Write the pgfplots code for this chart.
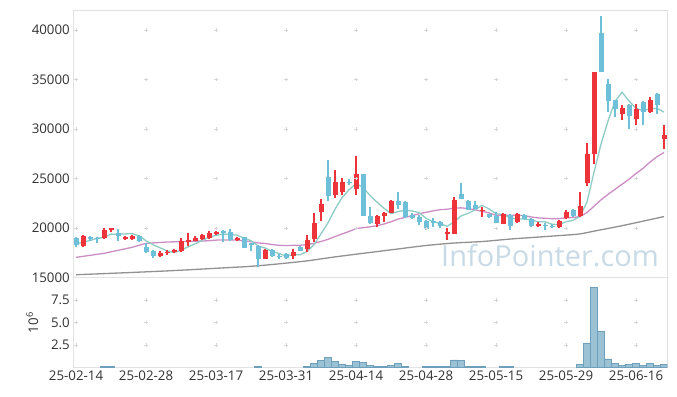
\documentclass[border=0pt]{standalone}
\usepackage{pgfplots}
\pgfplotsset{compat=1.18}
\usepackage{pgfplotstable}
\usepackage{fontspec}
\setmainfont{Open Sans}
\definecolor{upc}{RGB}{236,52,58}
\definecolor{dnc}{RGB}{110,192,216}
\definecolor{mafive}{RGB}{140,204,196}
\definecolor{matwenty}{RGB}{204,140,196}
\definecolor{malong}{RGB}{145,145,145}
\definecolor{volfill}{RGB}{154,194,212}
\definecolor{voldraw}{RGB}{110,160,188}
\definecolor{frame}{RGB}{226,226,226}
\definecolor{gridc}{RGB}{214,214,214}
\definecolor{txt}{RGB}{50,50,50}
\definecolor{wm}{RGB}{200,218,229}

\pgfplotstableread{
i o h l c
1 18170 19300 18100 19250
4 19020 20030 18950 19830
5 19790 20030 19590 19990
7 18880 19250 18830 19080
8 18880 19350 18830 19180
12 17155 17660 17100 17530
13 17460 17800 17300 17600
14 17560 17900 17460 17830
15 17660 19020 17560 18740
16 18640 19520 18240 18840
17 18740 19250 18700 19050
18 18880 19400 18830 19350
19 19020 19690 18950 19490
20 19380 19700 19330 19630
23 18810 19150 18750 19020
27 16890 17900 16850 17800
31 17155 17900 16900 17630
33 17900 19300 17550 18840
34 18920 21510 18580 20570
35 21610 22960 20700 22390
37 23330 25900 23030 24610
38 23630 25100 23300 24610
40 23970 27250 23300 25490
43 20430 21300 20100 21270
44 21200 21600 20670 21510
45 21550 22850 21500 22790
53 19420 19990 18840 19590
54 19420 23130 19370 22890
58 21710 22110 21170 21850
61 20430 21500 20380 21450
63 20600 21500 20550 21380
66 20260 20600 20100 20430
69 20100 20820 20050 20770
70 21000 21830 20950 21610
72 21200 23630 21150 22190
73 24540 28640 24300 27520
74 27520 35750 26440 35750
78 31530 32400 30890 32170
80 30990 32580 30380 32070
82 31730 33200 31650 32980
84 28960 30380 28020 29370
}\up

\pgfplotstableread{
i o h l c
0 18980 19080 18140 18310
2 19150 19220 18740 18920
3 19050 19150 18470 18980
6 19554 19930 18740 19180
9 19180 19300 18600 18670
10 18070 18470 17460 17560
11 17660 17800 16990 17155
21 19760 19830 18570 19520
22 19655 19930 18750 18810
24 19080 19150 17950 18000
25 18470 18550 17660 18310
26 18240 18300 16040 16890
28 17800 17850 17100 17200
29 17230 17400 16850 17050
30 17400 17450 16850 16950
32 18140 18200 17680 17730
36 25150 26910 22790 23200
39 24610 24990 24310 24530
41 25490 25490 21270 21270
42 21240 22140 20450 20500
46 22790 23630 21950 22290
47 22690 22750 21050 21100
48 21340 21500 20950 21000
49 21100 21340 20330 20670
50 20770 20850 19830 19930
51 20770 21000 20100 20540
52 20600 20770 20040 20190
55 23470 24540 22900 22960
56 22790 22850 21800 21850
57 22350 22790 21900 21950
59 21380 21450 21050 21100
60 21200 21650 20490 20540
62 21340 21400 19830 20260
64 21340 21400 20890 20940
65 20940 21000 20140 20190
67 20340 20530 19830 20260
68 20250 20430 20000 20150
71 21880 21950 21150 21200
75 39660 41410 35750 35800
76 34530 35100 31730 32840
77 32910 32950 31220 32070
79 32400 32500 30050 31290
81 32690 32800 30380 31730
83 33590 33650 31570 32400
}\dn

\pgfplotstableread{
i v
4 0.12
5 0.12
26 0.10
33 0.10
34 0.45
35 0.80
36 1.10
37 0.70
38 0.40
39 0.25
40 0.70
41 0.60
42 0.25
43 0.10
44 0.10
45 0.20
46 0.45
47 0.10
50 0.08
51 0.08
52 0.08
53 0.08
54 0.85
55 0.75
56 0.10
57 0.10
58 0.10
61 0.10
62 0.10
72 0.35
73 2.70
74 8.90
75 4.05
76 0.95
77 0.45
78 0.20
79 0.35
80 0.45
81 0.25
82 0.45
83 0.25
84 0.35
}\vol

\pgfplotsset{
  candle/.style={draw=none, mark=none, forget plot},
  base/.style={
    scale only axis, width=594bp,
    xmin=-0.39, xmax=84.47,
    axis line style={frame, line width=0.8bp},
    major tick length=0pt,
    xtick={0,10,...,80},
    tick label style={font=\fontsize{13.3bp}{16bp}\selectfont, text=txt},
    /pgf/number format/assume math mode=true,
    clip=true,
  },
}

\begin{document}
\begin{tikzpicture}[x=1bp,y=1bp]
\path[use as bounding box] (0,0) rectangle (677,396);
\node[anchor=base west, inner sep=0, text=wm, font=\fontsize{29bp}{34bp}\selectfont] at (441,129.5) {InfoPointer.com};

\begin{axis}[base,
  at={(73.3bp,118.3bp)}, anchor=south west,
  height=267.7bp,
  ymin=15000, ymax=42020,
  ytick={15000,20000,25000,30000,35000,40000},
  scaled y ticks=false,
  yticklabel style={/pgf/number format/1000 sep={}},
  xticklabels={},
]
\addplot[only marks, mark=+, mark size=1.6bp, gridc, line width=0.7bp, forget plot] coordinates {
(0,20000)(10,20000)(20,20000)(30,20000)(40,20000)(50,20000)(60,20000)(70,20000)(80,20000)
(0,25000)(10,25000)(20,25000)(30,25000)(40,25000)(50,25000)(60,25000)(70,25000)(80,25000)
(0,30000)(10,30000)(20,30000)(30,30000)(40,30000)(50,30000)(60,30000)(70,30000)(80,30000)
(0,35000)(10,35000)(20,35000)(30,35000)(40,35000)(50,35000)(60,35000)(70,35000)(80,35000)
(0,40000)(10,40000)(20,40000)(30,40000)(40,40000)(50,40000)(60,40000)(70,40000)(80,40000)
};
% long MA
\addplot[malong, line width=1.3bp, smooth, mark=none] coordinates {
(0,15300)(7,15500)(14,15720)(20,15950)(25,16150)(29,16400)(33,16700)(37,17100)(42,17550)(46,17900)(50,18250)(54,18500)(58,18650)(62,18900)(66,19100)(70,19300)(72,19420)(74,19700)(78,20250)(84,21170)
};
% MA20
\addplot[matwenty, line width=1.3bp, mark=none] coordinates {
(0,17055)(4,17460)(8,18066)(10,18470)(13,18600)(16,18660)(19,18728)(20,18794)(21,18808)(22,18802)(23,18803)(24,18712)(25,18628)(26,18513)(27,18449)(28,18350)(29,18269)(30,18239)(31,18263)(32,18273)(33,18335)(34,18472)(35,18654)(36,18872)(37,19150)(38,19413)(39,19668)(40,19961)(41,20049)(42,20133)(43,20246)(44,20421)(45,20645)(46,20915)(47,21080)(48,21270)(49,21451)(50,21600)(51,21746)(52,21869)(53,21906)(54,22022)(55,22051)(56,21983)(57,21850)(58,21712)(59,21538)(60,21291)(61,21300)(62,21288)(63,21293)(64,21265)(65,21135)(66,21042)(67,21000)(68,20957)(69,20962)(70,21046)(71,21079)(72,21179)(73,21576)(74,22219)(75,22861)(76,23410)(77,23916)(78,24432)(79,24942)(80,25518)(81,26032)(82,26668)(83,27219)(84,27641)
};
% MA5
\addplot[mafive, line width=1.3bp, mark=none] coordinates {
(0,18400)(1,18600)(2,18750)(3,18980)(4,19062)(5,19398)(6,19384)(7,19416)(8,19452)(9,19220)(10,18734)(11,18329)(12,18019)(13,17703)(14,17536)(15,17772)(16,18109)(17,18413)(18,18763)(19,19094)(20,19272)(21,19408)(22,19360)(23,19294)(24,18996)(25,18732)(26,18206)(27,18004)(28,17640)(29,17450)(30,17178)(31,17326)(32,17312)(33,17640)(34,18344)(35,19432)(36,20546)(37,21922)(38,23076)(39,23878)(40,24498)(41,24112)(42,23290)(43,22622)(44,22008)(45,21468)(46,21672)(47,21792)(48,21738)(49,21570)(50,20998)(51,20648)(52,20466)(53,20184)(54,20628)(55,21234)(56,21496)(57,21848)(58,22300)(59,21942)(60,21458)(61,21378)(62,21040)(63,20946)(64,20914)(65,20844)(66,20640)(67,20640)(68,20394)(69,20360)(70,20644)(71,20798)(72,21184)(73,22658)(74,25654)(75,28492)(76,30820)(77,32796)(78,33726)(79,32834)(80,32088)(81,31866)(82,32048)(83,32094)(84,31710)
};
% wicks
\addplot[candle, error bars/.cd, y dir=plus, y explicit, error mark=none,
  error bar style={draw=upc, line width=1.1bp, solid}]
  table[x=i, y=l, y error plus expr=\thisrow{h}-\thisrow{l}] \up;
\addplot[candle, error bars/.cd, y dir=plus, y explicit, error mark=none,
  error bar style={draw=dnc, line width=1.1bp, solid}]
  table[x=i, y=l, y error plus expr=\thisrow{h}-\thisrow{l}] \dn;
% bodies
\addplot[candle, error bars/.cd, y dir=plus, y explicit, error mark=none,
  error bar style={draw=upc, line width=5bp, solid}]
  table[x=i, y=o, y error plus expr=\thisrow{c}-\thisrow{o}] \up;
\addplot[candle, error bars/.cd, y dir=plus, y explicit, error mark=none,
  error bar style={draw=dnc, line width=5bp, solid}]
  table[x=i, y=c, y error plus expr=\thisrow{o}-\thisrow{c}] \dn;
\end{axis}

\begin{axis}[base,
  at={(73.3bp,28.5bp)}, anchor=south west,
  height=89.7bp,
  ymin=0, ymax=9.97,
  ytick={2.5,5,7.5},
  yticklabel style={/pgf/number format/.cd, fixed, fixed zerofill, precision=1},
  xticklabels={25-02-14,25-02-28,25-03-17,25-03-31,25-04-14,25-04-28,25-05-15,25-05-29,25-06-16},
  ylabel={10\textsuperscript{6}},
  ylabel style={at={(axis description cs:-0.0594,0.5)}, anchor=base, inner sep=0pt, rotate=0, font=\fontsize{13.3bp}{16bp}\selectfont, text=txt},
]
\addplot[only marks, mark=+, mark size=1.6bp, gridc, line width=0.7bp, forget plot] coordinates {
(0,2.5)(10,2.5)(20,2.5)(30,2.5)(40,2.5)(50,2.5)(60,2.5)(70,2.5)(80,2.5)
(0,5)(10,5)(20,5)(30,5)(40,5)(50,5)(60,5)(70,5)(80,5)
(0,7.5)(10,7.5)(20,7.5)(30,7.5)(40,7.5)(50,7.5)(60,7.5)(70,7.5)(80,7.5)
};
\addplot[ybar, bar width=1, bar shift=0pt, fill=volfill, draw=voldraw, line width=0.7bp] table[x=i, y=v] \vol;
\end{axis}
\end{tikzpicture}
\end{document}
